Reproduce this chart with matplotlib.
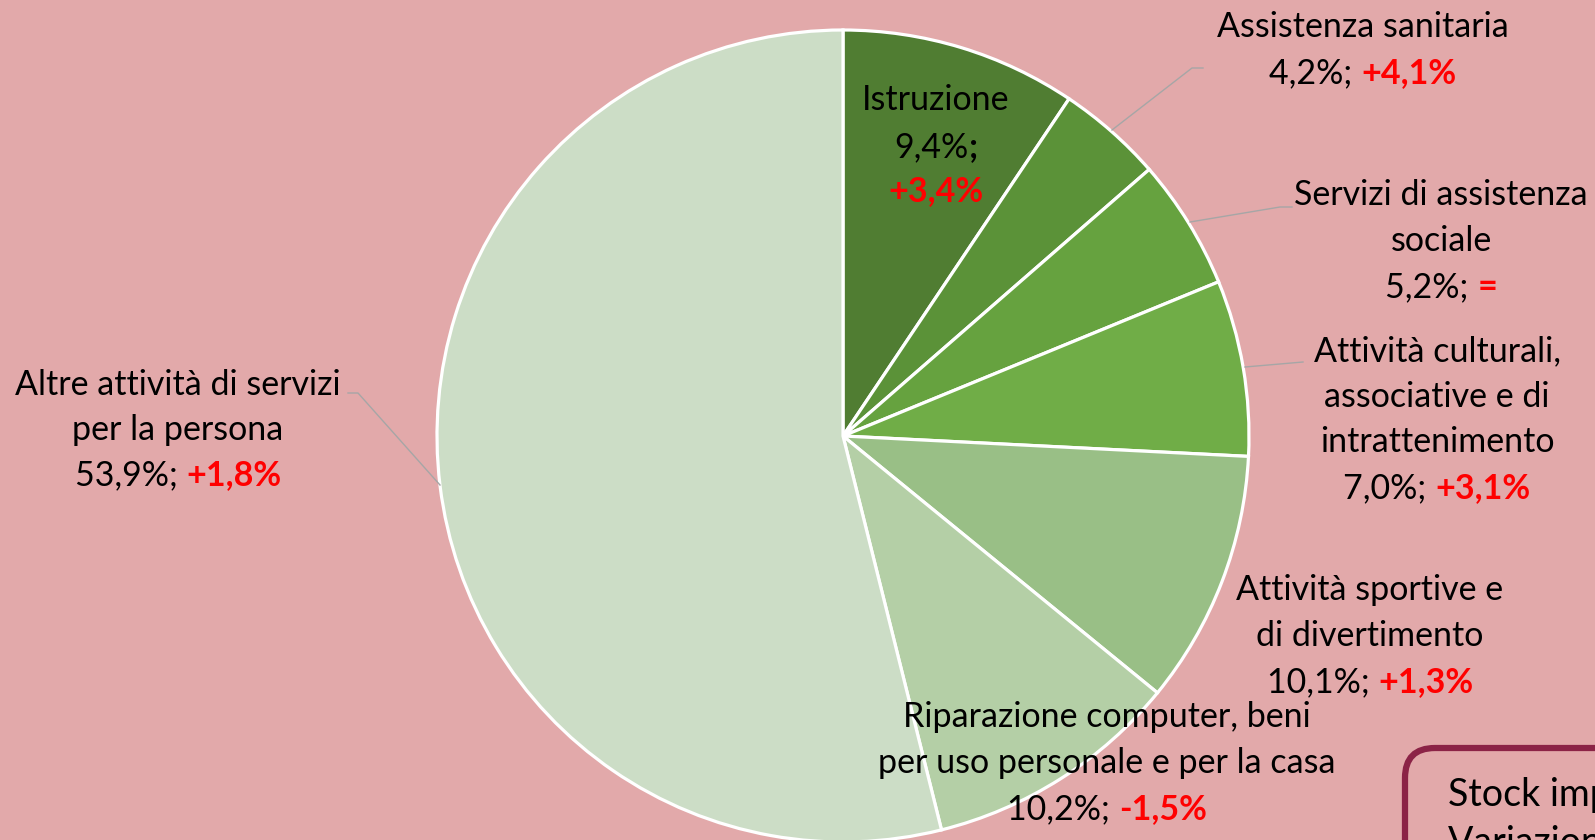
import matplotlib
matplotlib.use('Agg')
import matplotlib.pyplot as plt
from matplotlib.patches import FancyBboxPatch

# data
categories = ['Istruzione', 'Assistenza sanitaria', 'Servizi di assistenza\nsociale',
              'Attività culturali,\nassociative e di\nintrattenimento',
              'Attività sportive e\ndi divertimento',
              'Riparazione computer, beni\nper uso personale e per la casa',
              'Altre attività di servizi\nper la persona']
shares = [9.4, 4.2, 5.2, 7.0, 10.1, 10.2, 53.9]
share_labels = ['9,4%;', '4,2%;', '5,2%;', '7,0%;', '10,1%;', '10,2%;', '53,9%;']
change_labels = ['+3,4%', '+4,1%', '=', '+3,1%', '+1,3%', '-1,5%', '+1,8%']

colors = ['#507D32', '#5B9238', '#66A23F', '#70AD47', '#99BF86', '#B4CFA6', '#CCDDC6']
BG = '#E2A9AA'
FONT = 'Lato'
FS = 24.5
W, H = 1595, 840

fig = plt.figure(figsize=(W / 100, H / 100), dpi=100, facecolor=BG)
ax = fig.add_axes([0, 0, 1, 1])
ax.set_facecolor(BG)

cx, cy, r = 843, H - 436, 406
ax.pie(shares, colors=colors, startangle=90, counterclock=False,
       center=(cx, cy), radius=r, frame=True,
       wedgeprops=dict(edgecolor='white', linewidth=2.3))
ax.set_xlim(0, W)
ax.set_ylim(0, H)
ax.set_aspect('auto')
ax.axis('off')

renderer = fig.canvas.get_renderer()


def px(y):
    return H - y


def put_label(xc, ys, text, share, change):
    lines = text.split('\n') if text else []
    for line, y in zip(lines, ys):
        ax.text(xc, px(y), line, ha='center', va='center', fontsize=FS, family=FONT, color='black')
    y = ys[len(lines)]
    t1 = ax.text(0, 0, share + ' ', fontsize=FS, family=FONT, color='black')
    t2 = ax.text(0, 0, change, fontsize=FS, family=FONT, color='#FF0000', fontweight='bold')
    w1 = t1.get_window_extent(renderer).width
    w2 = t2.get_window_extent(renderer).width
    x0 = xc - (w1 + w2) / 2
    t1.set_position((x0, px(y)))
    t1.set_va('center')
    t2.set_position((x0 + w1, px(y)))
    t2.set_va('center')


def put_istruzione(xc, ys):
    ax.text(xc, px(ys[0]), categories[0], ha='center', va='center', fontsize=FS, family=FONT)
    t1 = ax.text(0, 0, '9,4%', fontsize=FS, family=FONT)
    t2 = ax.text(0, 0, ';', fontsize=FS, family=FONT, fontweight='bold')
    w1 = t1.get_window_extent(renderer).width
    w2 = t2.get_window_extent(renderer).width
    x0 = xc - (w1 + w2) / 2
    t1.set_position((x0, px(ys[1])))
    t1.set_va('center')
    t2.set_position((x0 + w1, px(ys[1])))
    t2.set_va('center')
    ax.text(xc, px(ys[2]), change_labels[0], ha='center', va='center', fontsize=FS,
            family=FONT, color='#FF0000', fontweight='bold')


put_istruzione(936, [100, 147, 191])
put_label(1363, [27, 73], categories[1], share_labels[1], change_labels[1])
put_label(1441, [195, 241, 287], categories[2], share_labels[2], change_labels[2])
put_label(1437, [351, 397, 442, 488], categories[3], share_labels[3], change_labels[3])
put_label(1370, [590, 636, 682], categories[4], share_labels[4], change_labels[4])
put_label(1107, [717, 763, 809], categories[5], share_labels[5], change_labels[5])
put_label(178, [385, 430, 475], categories[6], share_labels[6], change_labels[6])

# leader lines
lc = '#A6A6A6'
ax.plot([1112, 1192, 1203], [px(130), px(68), px(68)], color=lc, lw=1)
ax.plot([1190, 1280, 1292], [px(222), px(207), px(207)], color=lc, lw=1)
ax.plot([1245, 1303], [px(367), px(362)], color=lc, lw=1)
ax.plot([348, 358, 440], [px(393), px(393), px(485)], color=lc, lw=1)

# box in the bottom right corner (cut by the figure edge, as in the original)
box = FancyBboxPatch((1405, px(900)), 300, 152, boxstyle='round,pad=0,rounding_size=30',
                     facecolor=BG, edgecolor='#8B2346', linewidth=4.5, clip_on=True)
ax.add_patch(box)
ax.text(1448, px(795), 'Stock imprese attive', fontsize=27, family=FONT, va='center', ha='left')
ax.text(1448, px(843), 'Variazione annua', fontsize=27, family=FONT, va='center', ha='left')

fig.savefig('out.png', dpi=100, facecolor=BG)
